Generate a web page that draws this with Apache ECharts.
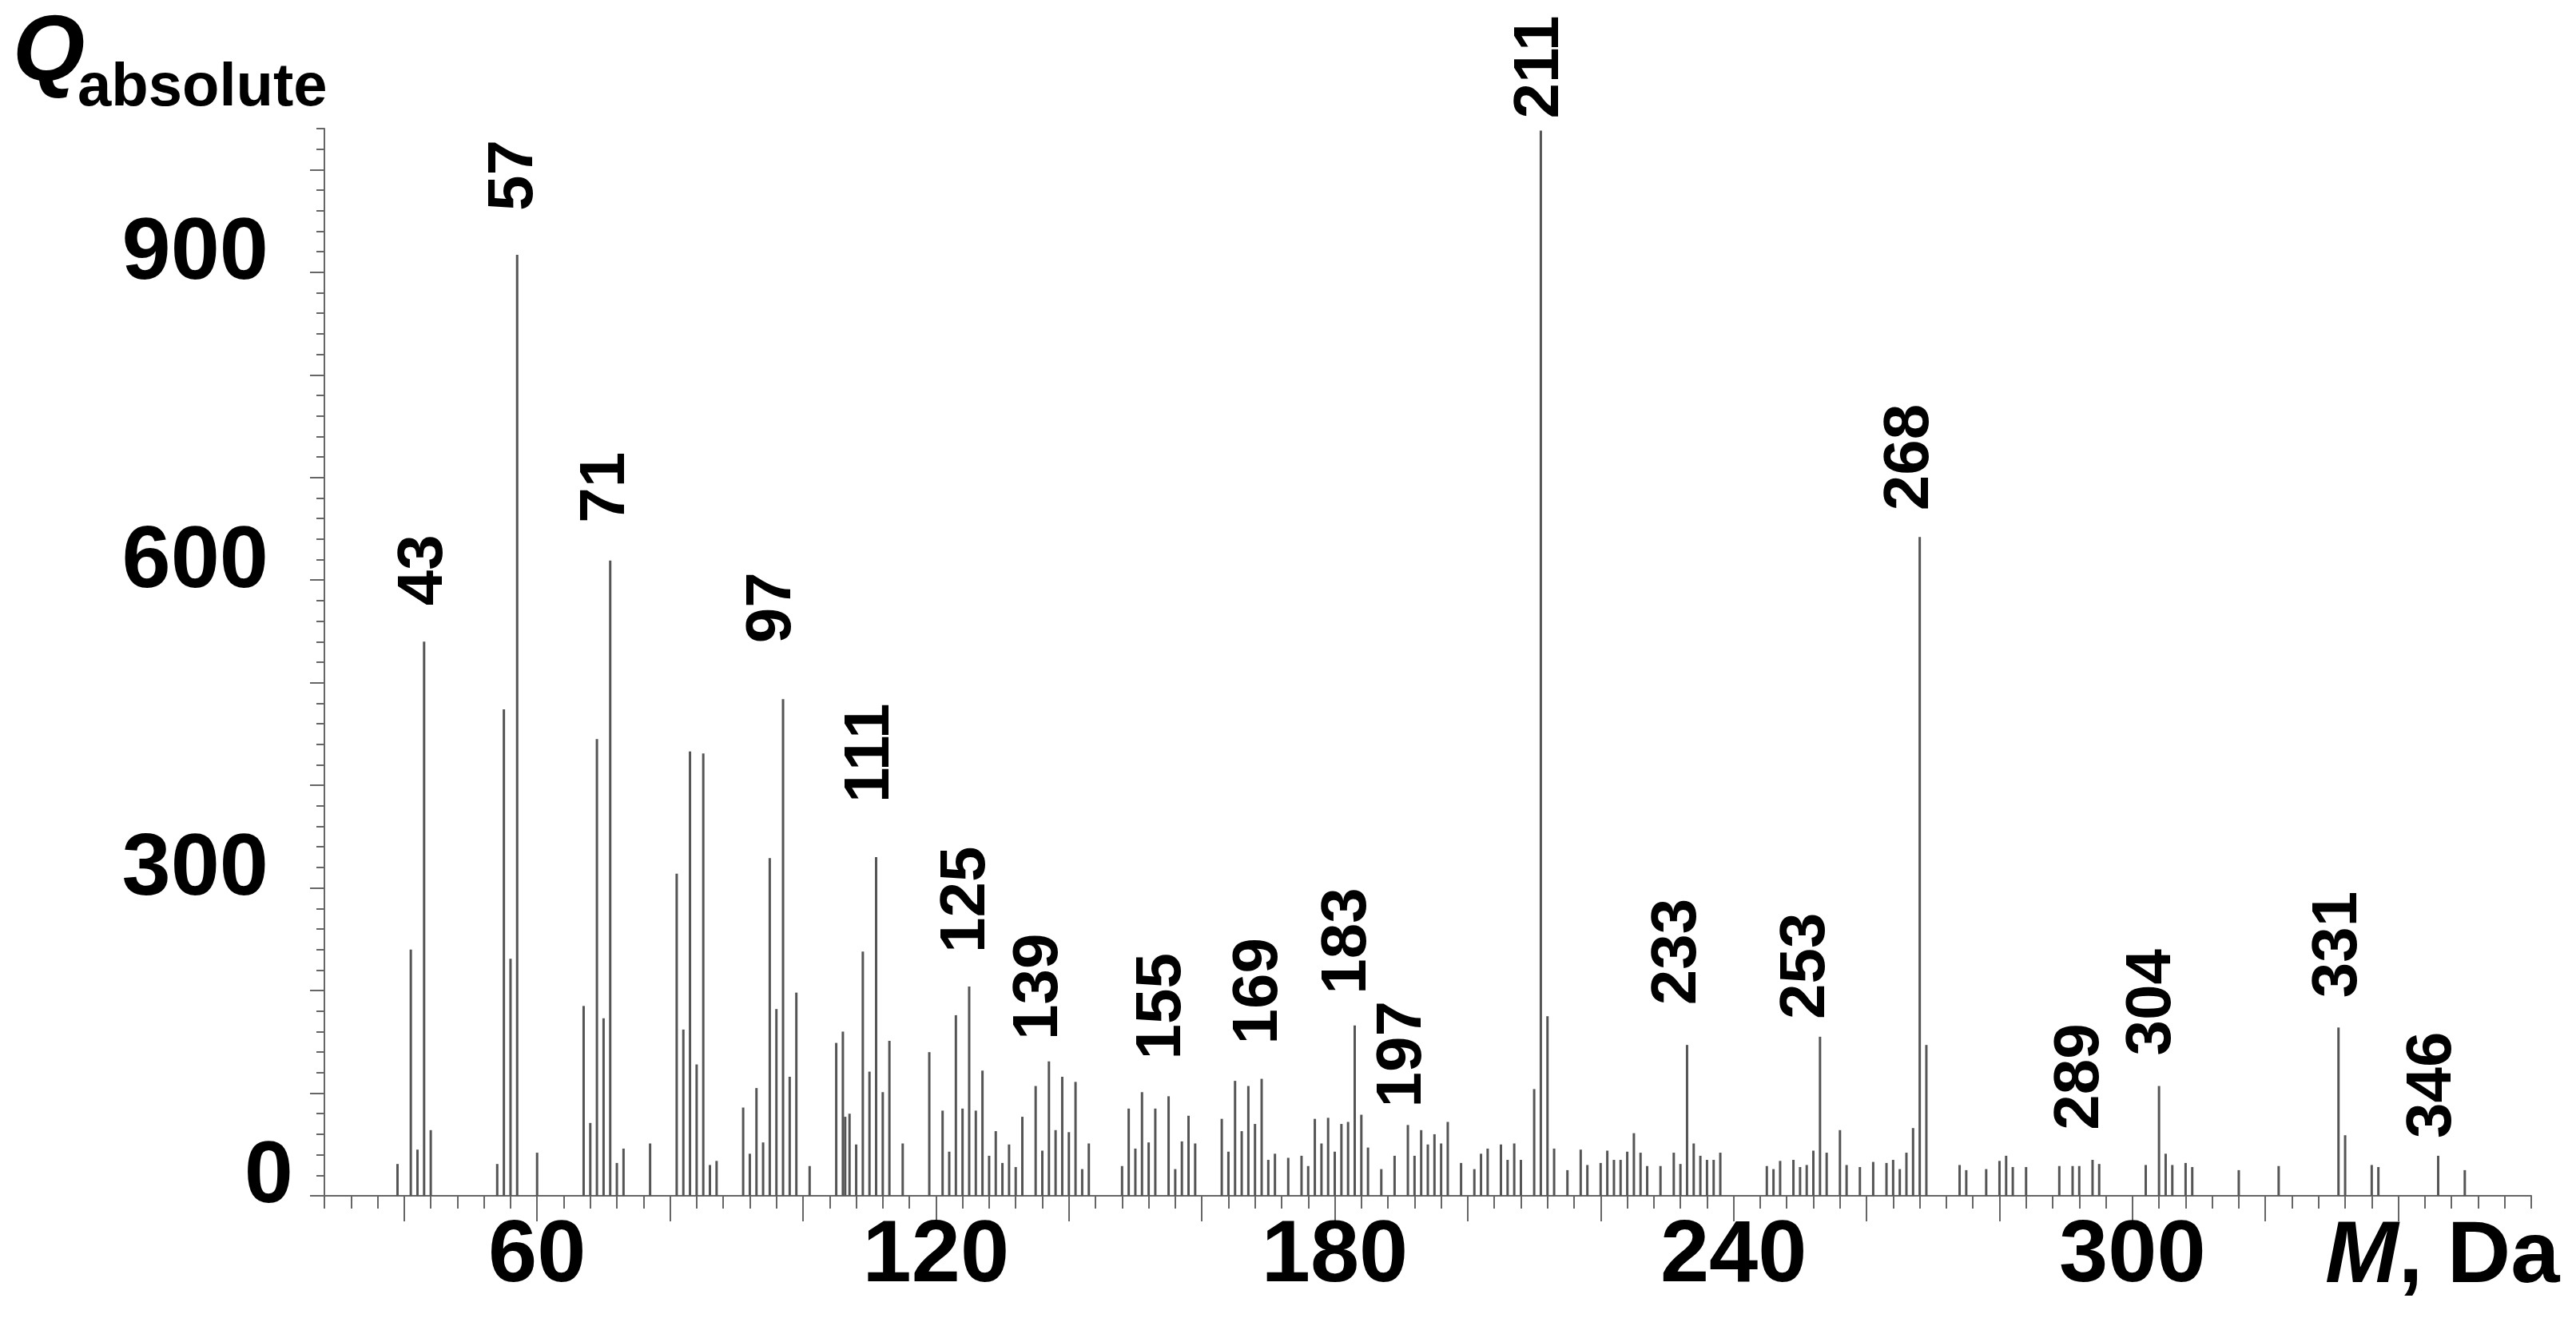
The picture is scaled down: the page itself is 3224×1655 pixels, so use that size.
<!DOCTYPE html>
<html lang="en">
<head>
    <meta charset="UTF-8">
    <title>Mass spectrum</title>
    <style>
        html, body { margin: 0; padding: 0; background: #fff; }
        #main { width: 3224px; height: 1655px; }
    </style>
    <script src="https://cdn.jsdelivr.net/npm/echarts@6/dist/echarts.min.js"></script>
</head>
<body>
<div id="main"></div>
<script type="text/javascript">
    // m/z positions of the sticks (Da)
    var masses = [
        39, 41, 42, 43, 44, 54, 55, 56, 57, 60,
        67, 68, 69, 70, 71, 72, 73, 77,
        81, 82, 83, 84, 85, 86, 87,
        91, 92, 93, 94, 95, 96, 97, 98, 99, 101,
        105, 106, 106.35, 107, 108, 109, 110, 111, 112, 113, 115, 119,
        121, 122, 123, 124, 125, 126, 127, 128, 129, 130, 131, 132, 133,
        135, 136, 137, 138, 139, 140, 141, 142, 143,
        148, 149, 150, 151, 152, 153, 155, 156, 157, 158, 159,
        163, 164, 165, 166, 167, 168, 169, 170, 171, 173,
        175, 176, 177, 178, 179, 180, 181, 182, 183, 184, 185, 187, 189,
        191, 192, 193, 194, 195, 196, 197, 199, 201, 202, 203,
        205, 206, 207, 208, 210, 211, 212, 213, 215, 217, 218,
        220, 221, 222, 223, 224, 225, 226, 227, 229, 231, 232, 233,
        234, 235, 236, 237, 238,
        245, 246, 247, 249, 250, 251, 252, 253, 254, 256, 257, 259,
        261, 263, 264, 265, 266, 267, 268, 269,
        274, 275, 278, 280, 281, 282, 284,
        289, 291, 292, 294, 295, 302, 304, 305, 306, 308, 309,
        316, 322, 331, 332, 336, 337, 346, 350
    ];
    // absolute intensities, same order as masses
    var intensities = [
        31, 240, 45, 540, 64, 31, 474, 231, 917, 42,
        185, 71, 445, 173, 619, 32, 46, 51,
        314, 162, 433, 128, 431, 30, 34,
        86, 41, 105, 52, 329, 182, 484, 116, 198, 29,
        149, 160, 77, 80, 50, 238, 121, 330, 101, 151, 51, 140,
        83, 43, 176, 85, 204, 83, 122, 39, 63, 32, 50, 28, 77,
        107, 44, 131, 64, 116, 62, 111, 26, 51,
        29, 85, 46, 101, 52, 85, 97, 26, 53, 78, 51,
        75, 43, 112, 63, 107, 70, 114, 35, 41, 37,
        39, 29, 75, 51, 76, 43, 70, 72, 166, 79, 47, 26, 39,
        69, 39, 64, 50, 60, 51, 72, 32, 26, 41, 46,
        50, 35, 51, 35, 104, 1038, 175, 46, 25, 45, 30,
        32, 44, 35, 35, 43, 61, 42, 29, 29, 42, 31, 147,
        51, 39, 35, 35, 42,
        29, 26, 34, 35, 28, 30, 44, 155, 42, 64, 30, 28,
        33, 32, 35, 26, 42, 66, 642, 147,
        30, 25, 26, 34, 39, 28, 28,
        29, 29, 29, 35, 31, 30, 107, 41, 30, 32, 28,
        25, 29, 164, 59, 30, 28, 39, 25
    ];
    // labelled peaks
    var peakLabels = [43, 57, 71, 97, 111, 125, 139, 155, 169, 183, 197, 211, 233, 253, 268, 289, 304, 331, 346];
    // gap above the stick and sideways shift of each peak label (px)
    var labelGap   = [45, 55, 47, 70, 68, 42, 46, 46, 43, 39, 18, 15, 50, 22, 33, 45, 38, 37, 22];
    var labelShift = [0, -3, -5, -13, -7, -3, -29, -8, -3, -9, -56, 0, -12, -17, -12, 27, -8, 0, -7];

    var xTickLabels = [60, 120, 180, 240, 300];
    var yTickLabels = [0, 300, 600, 900];
    var xLongTicks = [];
    for (var t = 40; t <= 340; t += 20) xLongTicks.push(t);
    var yLongTicks = [];
    for (var u = 0; u <= 1000; u += 100) yLongTicks.push(u);

    var axisGray = '#666';
    var fontMain = '"Liberation Sans", Arial, sans-serif';

    var sticks = masses.map(function (m, i) {
        var item = {value: [m, intensities[i]]};
        var k = peakLabels.indexOf(m);
        if (k >= 0) {
            item.label = {show: true, distance: labelGap[k], offset: [0, labelShift[k]]};
        }
        return item;
    });

    var myChart = echarts.init(document.getElementById('main'), null, {renderer: 'canvas'});
    var option = {
        animation: false,
        backgroundColor: '#fff',
        grid: {left: 406, right: 56, top: 161, bottom: 158, containLabel: false},
        xAxis: [
            {
                type: 'value', min: 28, max: 360, interval: 4, position: 'bottom',
                splitLine: {show: false},
                axisLine: {lineStyle: {color: axisGray, width: 2}},
                axisTick: {length: 16, lineStyle: {color: axisGray, width: 2}},
                axisLabel: {
                    margin: 22, color: '#000', fontSize: 110, fontWeight: 'bold', fontFamily: fontMain,
                    formatter: function (v) { return xTickLabels.indexOf(v) >= 0 ? String(v) : ''; }
                }
            },
            {
                type: 'value', min: 28, max: 360, position: 'bottom',
                splitLine: {show: false},
                axisLine: {show: false},
                axisTick: {show: true, length: 32, customValues: xLongTicks, lineStyle: {color: axisGray, width: 2}},
                axisLabel: {show: false}
            }
        ],
        yAxis: [
            {
                type: 'value', min: 0, max: 1040, interval: 20, position: 'left',
                splitLine: {show: false},
                axisLine: {show: true, lineStyle: {color: axisGray, width: 2}},
                axisTick: {show: true, length: 10, lineStyle: {color: axisGray, width: 2}},
                axisLabel: {
                    margin: 39, color: '#000',
                    formatter: function (v) {
                        if (yTickLabels.indexOf(v) < 0) return '';
                        return v === 0 ? '{z|0}' : '{n|' + v + '}';
                    },
                    rich: {
                        n: {fontSize: 110, fontWeight: 'bold', fontFamily: fontMain, color: '#000', padding: [0, 31, 44, 0]},
                        z: {fontSize: 110, fontWeight: 'bold', fontFamily: fontMain, color: '#000', padding: [0, 0, 44, 0]}
                    }
                }
            },
            {
                type: 'value', min: 0, max: 1040, position: 'left',
                splitLine: {show: false},
                axisLine: {show: false},
                axisTick: {show: true, length: 18, customValues: yLongTicks, lineStyle: {color: axisGray, width: 2}},
                axisLabel: {show: false}
            }
        ],
        series: [
            {
                type: 'bar',
                xAxisIndex: 0,
                yAxisIndex: 0,
                barWidth: 3,
                itemStyle: {color: '#555'},
                label: {
                    show: false, position: 'top', rotate: 90, align: 'left', verticalAlign: 'middle',
                    fontSize: 80, fontWeight: 'bold', fontFamily: fontMain, color: '#000',
                    formatter: function (p) { return String(p.value[0]); }
                },
                data: sticks
            }
        ],
        graphic: [
            {type: 'text', x: 16, y: 68, style: {text: 'Q', fontSize: 116, fontWeight: 'bold', fontStyle: 'italic', fontFamily: fontMain, fill: '#000', align: 'left', verticalAlign: 'middle'}},
            {type: 'text', x: 97, y: 111, style: {text: 'absolute', fontSize: 76, fontWeight: 'bold', fontFamily: fontMain, fill: '#000', align: 'left', verticalAlign: 'middle'}},
            {type: 'text', x: 2910, y: 1575, style: {
                text: '{i|M}{n|, Da}', fill: '#000', align: 'left', verticalAlign: 'middle',
                rich: {
                    i: {fontSize: 110, fontWeight: 'bold', fontStyle: 'italic', fontFamily: fontMain, fill: '#000'},
                    n: {fontSize: 110, fontWeight: 'bold', fontFamily: fontMain, fill: '#000'}
                }
            }}
        ]
    };
    myChart.setOption(option);
</script>
</body>
</html>
